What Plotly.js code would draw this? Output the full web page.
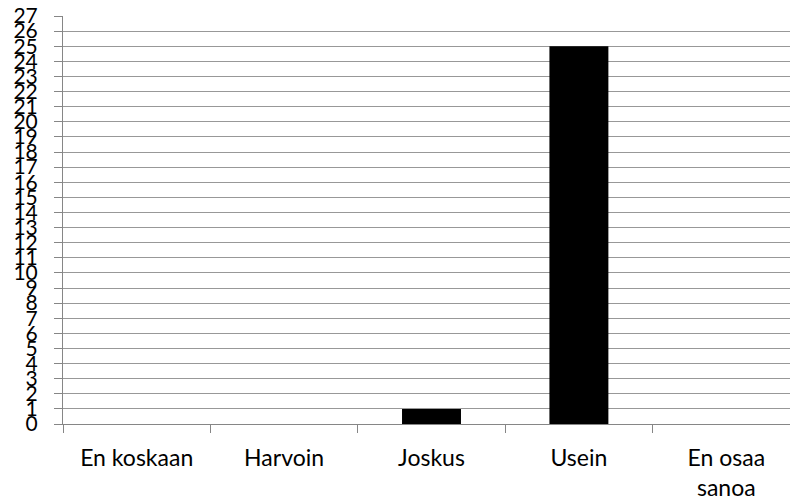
<!DOCTYPE html>
<html>
<head>
<meta charset="utf-8">
<script src="https://cdn.plot.ly/plotly-3.0.1.min.js"></script>
<style>
html,body{margin:0;padding:0;overflow:hidden;background:#fff;width:790px;height:504px;}
#chart{width:800px;height:504px;}
</style>
</head>
<body>
<div id="chart"></div>
<script>
var categories = ["En koskaan", "Harvoin", "Joskus", "Usein", "En osaa<br>sanoa"];
var values = [0, 0, 1, 25, 0];
var yTicks = [];
for (var i = 0; i <= 27; i++) yTicks.push(i);

var trace = {
  type: "bar",
  x: categories,
  y: values,
  marker: {color: "#000000", line: {width: 0}},
  width: 0.4,
  hoverinfo: "none"
};

var layout = {
  width: 800,
  height: 504,
  margin: {l: 63, r: 0, t: 16, b: 80},
  paper_bgcolor: "#ffffff",
  plot_bgcolor: "#ffffff",
  showlegend: false,
  font: {family: "Lato, 'Open Sans', sans-serif", size: 20, color: "#000000"},
  xaxis: {
    type: "category",
    tickson: "boundaries",
    ticks: "outside",
    ticklen: 8,
    tickcolor: "#868686",
    showline: true,
    linecolor: "#868686",
    linewidth: 1,
    showgrid: false,
    tickfont: {family: "Lato, 'Open Sans', sans-serif", size: 23, color: "#000000"},
    ticklabelstandoff: 13,
    fixedrange: true
  },
  yaxis: {
    range: [0, 27],
    tickmode: "array",
    tickvals: yTicks,
    ticktext: yTicks.map(String),
    ticks: "outside",
    ticklen: 8,
    tickcolor: "#868686",
    showline: true,
    linecolor: "#868686",
    linewidth: 1,
    showgrid: true,
    gridcolor: "#989898",
    gridwidth: 1,
    zeroline: false,
    tickfont: {family: "Lato, 'Open Sans', sans-serif", size: 21, color: "#000000"},
    ticklabelstandoff: 12,
    fixedrange: true
  }
};

Plotly.newPlot("chart", [trace], layout, {displayModeBar: false, staticPlot: true});
</script>
</body>
</html>
